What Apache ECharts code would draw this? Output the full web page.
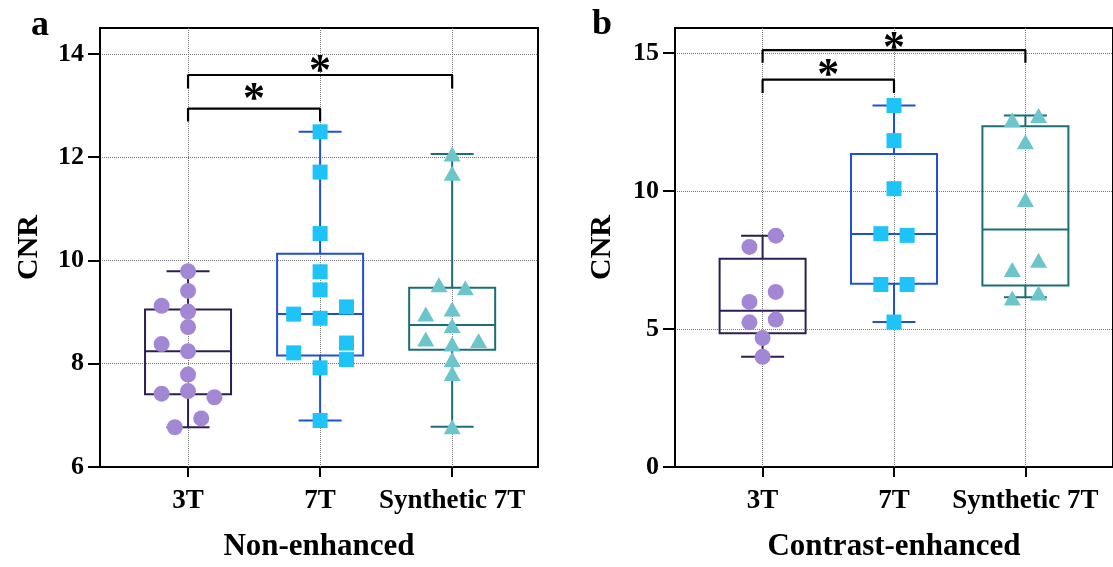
<!DOCTYPE html>
<html>
<head>
<meta charset="utf-8">
<title>CNR box plots</title>
<script src="https://cdn.jsdelivr.net/npm/echarts@6/dist/echarts.min.js"></script>
<style>
html, body { margin: 0; padding: 0; background: #fff; }
#chart { width: 1113px; height: 567px; }
</style>
</head>
<body>
<div id="chart"></div>
<script>
// groups on the x axis
const groups = ['3T', '7T', 'Synthetic 7T'];
const groupPos = [1, 2, 3];

// panel a - non-enhanced CNR, one value per subject
const ne3T = [9.79, 9.41, 9.12, 9.01, 8.71, 8.38, 8.24, 7.79, 7.47, 7.42, 7.35, 6.94, 6.77];
const ne7T = [12.49, 11.71, 10.52, 9.78, 9.43, 9.10, 8.96, 8.88, 8.40, 8.21, 8.08, 7.92, 6.90];
const neSyn = [12.06, 11.69, 9.53, 9.47, 9.06, 8.96, 8.74, 8.48, 8.45, 8.38, 8.08, 7.81, 6.78];
// sideways spread of the dots (in group units)
const ne3TSpread = [0, 0, -0.2, 0, 0, -0.2, 0, 0, 0, -0.2, 0.2, 0.1, -0.1];
const ne7TSpread = [0, 0, 0, 0, 0, 0.2, -0.2, 0, 0.2, -0.2, 0.2, 0, 0];
const neSynSpread = [0, 0, -0.1, 0.1, 0, -0.2, 0, -0.2, 0.2, 0, 0, 0, 0];
// box: [min, q1, median, q3, max]
const neBox = [
  [6.77, 7.41, 8.24, 9.05, 9.79],
  [6.90, 8.16, 8.96, 10.13, 12.49],
  [6.78, 8.27, 8.75, 9.47, 12.06]
];
// significance brackets: [from, to, bar, leg end, star]
const neBrackets = [
  [1, 2, 12.94, 12.69, 13.21],
  [1, 3, 13.59, 13.33, 13.75]
];

// panel b - contrast-enhanced CNR
const ce3T = [8.38, 7.97, 6.34, 5.98, 5.34, 5.24, 4.67, 3.99];
const ce7T = [13.09, 11.82, 10.08, 8.45, 8.39, 6.61, 6.61, 5.25];
const ceSyn = [12.73, 12.58, 11.78, 9.69, 7.49, 7.15, 6.30, 6.12];
const ce3TSpread = [0.1, -0.1, 0.1, -0.1, 0.1, -0.1, 0, 0];
const ce7TSpread = [0, 0, 0, -0.1, 0.1, -0.1, 0.1, 0];
const ceSynSpread = [0.1, -0.1, 0, 0, 0.1, -0.1, 0.1, -0.1];
const ceBox = [
  [3.99, 4.84, 5.66, 7.54, 8.38],
  [5.25, 6.64, 8.44, 11.34, 13.09],
  [6.15, 6.57, 8.60, 12.34, 12.73]
];
const ceBrackets = [
  [1, 2, 14.03, 13.55, 14.36],
  [1, 3, 15.10, 14.64, 15.33]
];

const boxColors = ['#2c1e52', '#2150d8', '#1b6f74'];
const dotColors = ['#a288d4', '#1ec3f8', '#6dc5cc'];
const dotSymbols = ['circle', 'rect', 'triangle'];
const dotSizes = [16, 15, [17, 15]];
const serif = '"Liberation Serif", "Times New Roman", serif';

const chart = echarts.init(document.getElementById('chart'));

function xAxisFor(idx, name, max) {
  return {
    gridIndex: idx, type: 'value', min: 1 / 3, max: max,
    axisLine: { lineStyle: { color: '#000', width: 2 } },
    axisTick: { customValues: groupPos, length: 10, lineStyle: { color: '#000', width: 2 } },
    axisLabel: {
      customValues: groupPos, formatter: v => groups[Math.round(v) - 1],
      color: '#000', fontSize: 27, fontWeight: 'bold', fontFamily: serif, margin: 21
    },
    splitLine: { show: false },
    name: name, nameLocation: 'middle', nameGap: 64,
    nameTextStyle: { color: '#000', fontSize: 31, fontWeight: 'bold', fontFamily: serif }
  };
}

function yAxisFor(idx, min, max, step, ticks, gap) {
  return {
    gridIndex: idx, type: 'value', min: min, max: max, interval: step,
    axisLine: { show: true, lineStyle: { color: '#000', width: 2 } },
    axisTick: { show: true, customValues: ticks, length: 12, lineStyle: { color: '#000', width: 2 } },
    axisLabel: {
      customValues: ticks, color: '#000', fontSize: 26, fontWeight: 'bold',
      fontFamily: serif, margin: 16
    },
    splitLine: { show: true, lineStyle: { type: 'dotted', color: '#777', width: 1 } },
    name: 'CNR', nameLocation: 'middle', nameGap: gap,
    nameTextStyle: { color: '#000', fontSize: 30, fontWeight: 'bold', fontFamily: serif }
  };
}

function panelSeries(idx, values, spreads, boxes, brackets) {
  const list = [];
  // boxes and whiskers, with the dotted group guides underneath
  list.push({
    type: 'custom', xAxisIndex: idx, yAxisIndex: idx, z: 2,
    data: boxes.map((b, i) => [groupPos[i], ...b, i]),
    encode: { x: 0, y: [1, 2, 3, 4, 5] },
    renderItem: function (params, api) {
      const x = api.value(0);
      const c = boxColors[api.value(6)];
      const p = [1, 2, 3, 4, 5].map(k => api.coord([x, api.value(k)]));
      const cx = p[0][0];
      const hw = 43, cw = 21.5;
      const st = { stroke: c, lineWidth: 2, fill: 'none' };
      const line = (x1, y1, x2, y2) => ({ type: 'line', shape: { x1, y1, x2, y2 }, style: st });
      return {
        type: 'group',
        children: [
          { type: 'rect', shape: { x: cx - hw, y: p[3][1], width: hw * 2, height: p[1][1] - p[3][1] }, style: st },
          line(cx - hw, p[2][1], cx + hw, p[2][1]),
          line(cx, p[3][1], cx, p[4][1]),
          line(cx, p[0][1], cx, p[1][1]),
          line(cx - cw, p[4][1], cx + cw, p[4][1]),
          line(cx - cw, p[0][1], cx + cw, p[0][1])
        ]
      };
    },
    markLine: {
      z: 1, silent: true, symbol: ['none', 'none'], label: { show: false },
      lineStyle: { type: 'dotted', color: '#777', width: 1 },
      data: groupPos.map(g => ({ xAxis: g }))
    }
  });
  // individual values
  values.forEach((vals, g) => {
    list.push({
      type: 'scatter', xAxisIndex: idx, yAxisIndex: idx, z: 3,
      symbol: dotSymbols[g], symbolSize: dotSizes[g],
      itemStyle: { color: dotColors[g], opacity: 1 },
      data: vals.map((v, i) => [groupPos[g] + spreads[g][i], v])
    });
  });
  // significance brackets
  brackets.forEach(b => {
    list.push({
      type: 'line', xAxisIndex: idx, yAxisIndex: idx, z: 4,
      symbol: 'none', lineStyle: { color: '#000', width: 2.2 },
      data: [[b[0], b[3]], [b[0], b[2]], [b[1], b[2]], [b[1], b[3]]]
    });
  });
  list.push({
    type: 'custom', xAxisIndex: idx, yAxisIndex: idx, z: 5,
    data: brackets.map(b => [(b[0] + b[1]) / 2, b[4]]),
    renderItem: function (params, api) {
      const p = api.coord([api.value(0), api.value(1)]);
      return {
        type: 'text',
        style: {
          text: '*', x: p[0], y: p[1] + 6, align: 'center', verticalAlign: 'middle',
          font: 'bold 44px ' + serif, fill: '#000'
        }
      };
    }
  });
  return list;
}

const option = {
  animation: false,
  backgroundColor: '#fff',
  graphic: [
    { type: 'text', left: 31, top: 8, style: { text: 'a', font: 'bold 36px ' + serif, fill: '#000' } },
    { type: 'text', left: 592, top: 7, style: { text: 'b', font: 'bold 36px ' + serif, fill: '#000' } }
  ],
  grid: [
    { left: 100, top: 28, width: 438, height: 441, show: true, borderColor: '#000', borderWidth: 2 },
    { left: 675, top: 28, width: 440, height: 441, show: true, borderColor: '#000', borderWidth: 2 }
  ],
  xAxis: [
    xAxisFor(0, 'Non-enhanced', 3.65),
    xAxisFor(1, 'Contrast-enhanced', 11 / 3)
  ],
  yAxis: [
    yAxisFor(0, 6, 14.5, 2, [6, 8, 10, 12, 14], 56),
    yAxisFor(1, 0, 15.9, 5, [0, 5, 10, 15], 58)
  ],
  series: [
    ...panelSeries(0, [ne3T, ne7T, neSyn], [ne3TSpread, ne7TSpread, neSynSpread], neBox, neBrackets),
    ...panelSeries(1, [ce3T, ce7T, ceSyn], [ce3TSpread, ce7TSpread, ceSynSpread], ceBox, ceBrackets)
  ]
};

chart.setOption(option);
</script>
</body>
</html>
